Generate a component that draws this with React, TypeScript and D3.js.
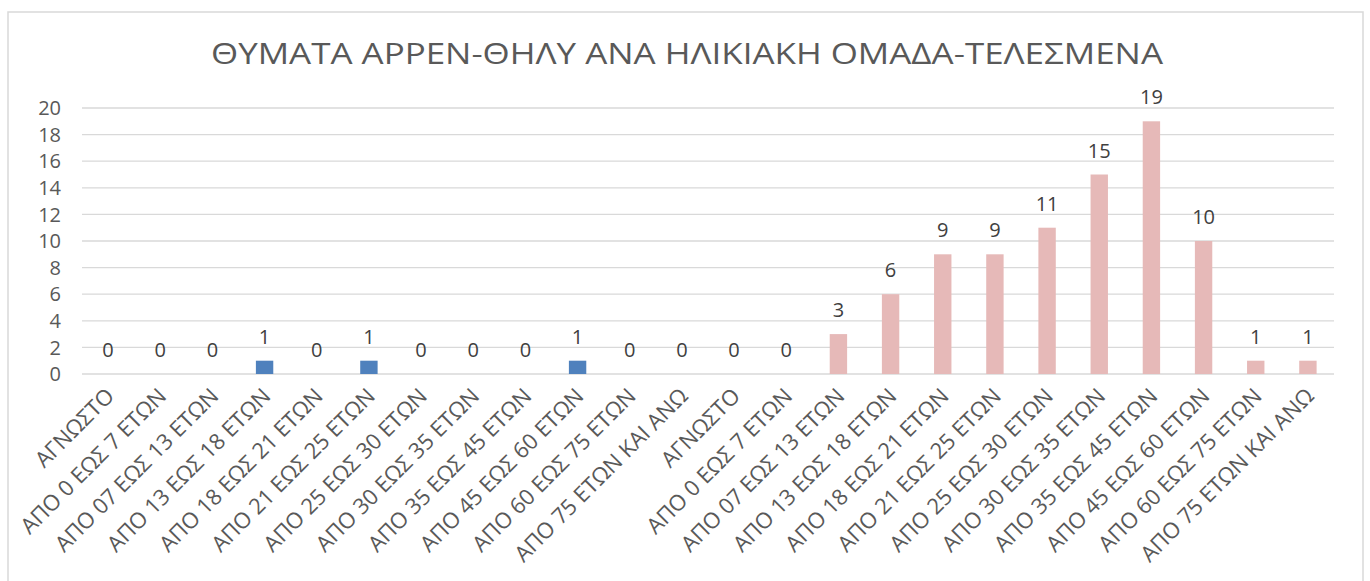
import React from "react";
import * as d3 from "d3";

const TITLE = "ΘΥΜΑΤΑ ΑΡΡΕΝ-ΘΗΛΥ ΑΝΑ ΗΛΙΚΙΑΚΗ ΟΜΑΔΑ-ΤΕΛΕΣΜΕΝΑ";
const ageGroups = [
  "ΑΓΝΩΣΤΟ",
  "ΑΠΟ 0 ΕΩΣ 7 ΕΤΩΝ",
  "ΑΠΟ 07 ΕΩΣ 13 ΕΤΩΝ",
  "ΑΠΟ 13 ΕΩΣ 18 ΕΤΩΝ",
  "ΑΠΟ 18 ΕΩΣ 21 ΕΤΩΝ",
  "ΑΠΟ 21 ΕΩΣ 25 ΕΤΩΝ",
  "ΑΠΟ 25 ΕΩΣ 30 ΕΤΩΝ",
  "ΑΠΟ 30 ΕΩΣ 35 ΕΤΩΝ",
  "ΑΠΟ 35 ΕΩΣ 45 ΕΤΩΝ",
  "ΑΠΟ 45 ΕΩΣ 60 ΕΤΩΝ",
  "ΑΠΟ 60 ΕΩΣ 75 ΕΤΩΝ",
  "ΑΠΟ 75 ΕΤΩΝ ΚΑΙ ΑΝΩ",
];
const maleValues = [0, 0, 0, 1, 0, 1, 0, 0, 0, 1, 0, 0];
const femaleValues = [0, 0, 3, 6, 9, 9, 11, 15, 19, 10, 1, 1];
const yTicks = [0, 2, 4, 6, 8, 10, 12, 14, 16, 18, 20];
const MALE_COLOR = "#4f81bd";
const FEMALE_COLOR = "#e6b9b8";

const rows = [
  ...ageGroups.map((label, i) => ({ label, value: maleValues[i], color: MALE_COLOR })),
  ...ageGroups.map((label, i) => ({ label, value: femaleValues[i], color: FEMALE_COLOR })),
];

export default function App() {
  const W = 1370;
  const H = 581;
  const left = 82;
  const right = 1334;
  const top = 108;
  const bottom = 374;
  const font = "'Open Sans', 'Noto Sans', sans-serif";
  const textColor = "#595959";

  const x = d3
    .scaleBand<number>()
    .domain(rows.map((_, i) => i))
    .range([left, right])
    .paddingInner(2 / 3)
    .paddingOuter(1 / 3);
  const y = d3.scaleLinear().domain([0, 20]).range([bottom, top]);

  return (
    <svg
      width={W}
      height={H}
      style={{ position: "absolute", left: 0, top: 0, background: "#fff" }}
      fontFamily={font}
    >
      <rect x={0} y={0} width={W} height={H} fill="#fff" />
      <rect x={8} y={12} width={1355} height={H} fill="#fff" stroke="#d9d9d9" strokeWidth={1.5} />
      <text
        x={211}
        y={64}
        fontSize={30}
        fill={textColor}
        textLength={952}
        lengthAdjust="spacingAndGlyphs"
      >
        {TITLE}
      </text>
      {yTicks.map((t) => (
        <g key={t}>
          <line x1={left} x2={right} y1={y(t)} y2={y(t)} stroke="#d9d9d9" strokeWidth={1.3} />
          <text x={61} y={y(t)} dy="0.36em" textAnchor="end" fontSize={20} fill={textColor}>
            {t}
          </text>
        </g>
      ))}
      {rows.map((r, i) => {
        const bx = x(i)!;
        const cx = bx + x.bandwidth() / 2;
        return (
          <g key={i}>
            <rect
              x={bx}
              y={y(r.value)}
              width={x.bandwidth()}
              height={y(0) - y(r.value)}
              fill={r.color}
            />
            <text x={cx} y={y(r.value) - 17} textAnchor="middle" fontSize={20} fill="#404040">
              {r.value}
            </text>
            <text
              transform={`translate(${cx + 2},${bottom + 18}) rotate(-45)`}
              textAnchor="end"
              dy="0.35em"
              fontSize={22}
              fill={textColor}
            >
              {r.label}
            </text>
          </g>
        );
      })}
    </svg>
  );
}
